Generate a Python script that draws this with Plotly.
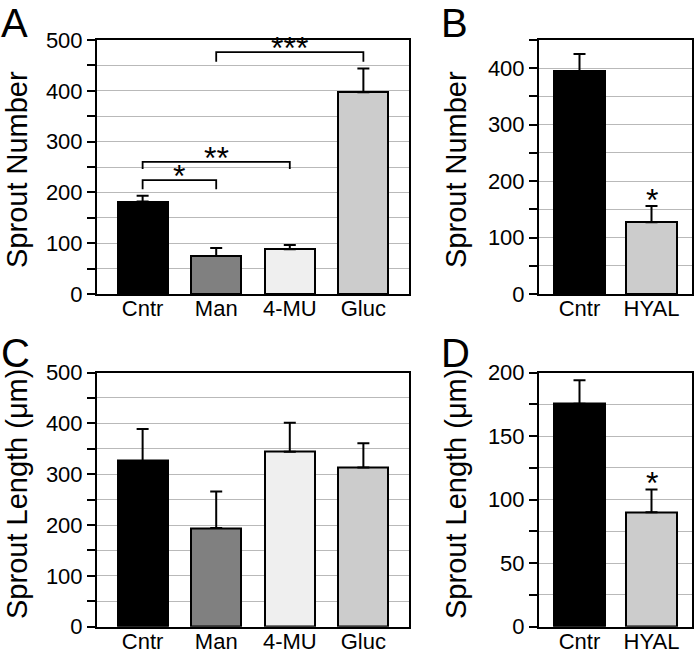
import plotly.graph_objects as go

W, H = 695, 653

# ---------- data ----------
cats_4 = ["Cntr", "Man", "4-MU", "Gluc"]
cats_2 = ["Cntr", "HYAL"]

a_means = [182, 75, 88, 397]
a_errs = [11.5, 15.5, 8.5, 47]

b_means = [395, 127]
b_errs = [30, 29]

c_means = [326, 194, 344, 313]
c_errs = [63, 72, 57, 48]

d_means = [175.5, 90]
d_errs = [18.5, 18]

colors_4 = ["#000000", "#808080", "#efefef", "#cccccc"]
colors_2 = ["#000000", "#cccccc"]

# significance brackets for panel A: (from idx, to idx, bracket y, tick-end y, label)
a_brackets = [
    (1, 3, 476, 457, "***"),
    (0, 2, 260, 246, "**"),
    (0, 1, 224, 206, "*"),
]
# stars above single bars: (idx, y, label)
b_stars = [(1, 156, "*")]
d_stars = [(1, 108, "*")]

FONT = "Liberation Sans, Arial, Helvetica, sans-serif"

# ---------- layout geometry (pixels) ----------
xA = (97, 409)
xB = (539, 692)
yTop = (40, 294)
yBot = (372.5, 626.7)


def px_dom(p, total):
    return [p[0] / total, p[1] / total]


def ydom(p):
    return [1 - p[1] / H, 1 - p[0] / H]


fig = go.Figure()

panels = [
    ("x", "y", cats_4, a_means, a_errs, colors_4),
    ("x2", "y2", cats_2, b_means, b_errs, colors_2),
    ("x3", "y3", cats_4, c_means, c_errs, colors_4),
    ("x4", "y4", cats_2, d_means, d_errs, colors_2),
]

for xa, ya, cats, means, errs, cols in panels:
    n = len(cats)
    fig.add_trace(go.Bar(
        x=list(range(n)), y=means,
        width=0.68 if n == 4 else 0.71,
        marker=dict(color=cols, line=dict(color="black", width=2)),
        error_y=dict(type="data", symmetric=False, array=errs,
                     arrayminus=[0] * n, color="black", thickness=2, width=6),
        xaxis=xa, yaxis=ya, showlegend=False, hoverinfo="skip",
    ))

# brackets in panel A
for i0, i1, yb, yt, lab in a_brackets:
    fig.add_trace(go.Scatter(
        x=[i0, i0, i1, i1], y=[yt, yb, yb, yt], mode="lines",
        line=dict(color="black", width=1.8), xaxis="x", yaxis="y",
        showlegend=False, hoverinfo="skip"))

STAR = dict(size=32, family=FONT, color="black")
annotations = []
for i0, i1, yb, yt, lab in a_brackets:
    annotations.append(dict(x=(i0 + i1) / 2, y=yb, xref="x", yref="y",
                            text=lab, showarrow=False, yanchor="bottom",
                            yshift=-16, font=STAR))
for idx, yv, lab in b_stars:
    annotations.append(dict(x=idx, y=yv, xref="x2", yref="y2", text=lab,
                            showarrow=False, yanchor="bottom", yshift=-14, font=STAR))
for idx, yv, lab in d_stars:
    annotations.append(dict(x=idx, y=yv, xref="x4", yref="y4", text=lab,
                            showarrow=False, yanchor="bottom", yshift=-14, font=STAR))

# panel letters
for lab, px, py in [("A", 0, 0), ("B", 440, 0), ("C", 0, 330), ("D", 440, 330)]:
    annotations.append(dict(x=px / W, y=1 - py / H, xref="paper", yref="paper",
                            text=lab, showarrow=False, xanchor="left", yanchor="top",
                            xshift=0, yshift=0, borderpad=0,
                            font=dict(size=40, family=FONT, color="black")))

# axis titles (center x px, center y px)
for txt, px, py in [("Sprout Number", 17, 170), ("Sprout Number", 456, 170),
                    ("Sprout Length (μm)", 17, 494), ("Sprout Length (μm)", 456, 494)]:
    annotations.append(dict(x=px / W, y=1 - py / H,
                            xref="paper", yref="paper", text=txt, showarrow=False,
                            textangle=-90, xanchor="center", yanchor="middle",
                            borderpad=0,
                            font=dict(size=29, family=FONT, color="black")))


def xaxis_cfg(dom, cats, rng):
    return dict(domain=px_dom(dom, W), range=rng, tickvals=list(range(len(cats))),
                ticktext=cats, showline=True, mirror=True, linecolor="black",
                linewidth=2, ticks="", showgrid=False, zeroline=False,
                automargin=False, ticklabelstandoff=-6,
                tickfont=dict(size=22, family=FONT, color="black"), fixedrange=True)


def yaxis_cfg(dom, top, step, labstep, anchor):
    vals = []
    txt = []
    v = 0
    while v <= top + 1e-9:
        vals.append(v)
        txt.append(str(int(v)) if abs(v / labstep - round(v / labstep)) < 1e-9 else "")
        v += step
    return dict(domain=ydom(dom), range=[0, top], tickvals=vals, ticktext=txt,
                showline=True, mirror=True, linecolor="black", linewidth=2,
                ticks="outside", ticklen=8, tickwidth=2, tickcolor="black",
                showgrid=True, gridcolor="#b9b9b9", gridwidth=1, zeroline=False,
                automargin=False,
                tickfont=dict(size=22, family=FONT, color="black"), anchor=anchor,
                fixedrange=True)


fig.update_layout(
    width=W, height=H, margin=dict(l=0, r=0, t=0, b=0, autoexpand=False),
    paper_bgcolor="white", plot_bgcolor="white",
    bargap=0,
    xaxis=dict(**xaxis_cfg(xA, cats_4, [-0.62, 3.62]), anchor="y"),
    xaxis2=dict(**xaxis_cfg(xB, cats_2, [-0.5625, 1.5625]), anchor="y2"),
    xaxis3=dict(**xaxis_cfg(xA, cats_4, [-0.62, 3.62]), anchor="y3"),
    xaxis4=dict(**xaxis_cfg(xB, cats_2, [-0.5625, 1.5625]), anchor="y4"),
    yaxis=yaxis_cfg(yTop, 500, 50, 100, "x"),
    yaxis2=yaxis_cfg(yTop, 450, 50, 100, "x2"),
    yaxis3=yaxis_cfg(yBot, 500, 50, 100, "x3"),
    yaxis4=yaxis_cfg(yBot, 200, 25, 50, "x4"),
    annotations=annotations,
    font=dict(family=FONT, color="black"),
)

fig.write_html(
    "out.html",
    config={"displayModeBar": False},
    post_script="document.body.style.margin='0';document.body.style.padding='0';"
                "document.body.style.overflow='hidden';",
)
